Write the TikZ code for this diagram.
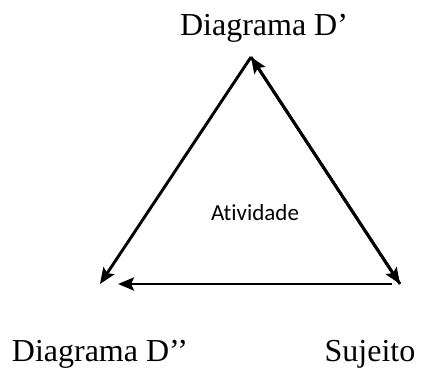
\documentclass[tikz,border=0pt]{standalone}
\usepackage{fontspec}
\setmainfont{Liberation Serif}
\newfontfamily\calib[Ligatures=NoCommon]{Carlito}
\usetikzlibrary{arrows.meta}
\tikzset{
  edge/.style={line width=2.9pt, -{Stealth[length=16pt,width=13pt,inset=3pt]}},
  lbl/.style={font=\fontsize{32}{34}\selectfont, anchor=base, inner sep=0pt},
  mid/.style={font=\calib\fontsize{23}{25}\selectfont, anchor=base, inner sep=0pt}
}
\begin{document}
\begin{tikzpicture}[x=1pt,y=-1pt]
\useasboundingbox (0,0) rectangle (427,374);
\coordinate (A) at (251,57);
\coordinate (L) at (100,284);
\coordinate (R) at (400,284);
\coordinate (Lb) at (118,284);
\coordinate (Rb) at (392,284);
\node[lbl] (top) at (264,36) {Diagrama D’};
\node[lbl] (dl) at (100,361) {Diagrama D’’};
\node[lbl] (suj) at (370,361) {Sujeito};
\node[mid] (ativ) at (255,220) {Atividade};
\draw[edge] (A) -- (L);
\draw[edge] (R) -- (A);
\draw[edge] (A) -- (R);
\draw[edge] (Rb) -- (Lb);
\end{tikzpicture}
\end{document}
